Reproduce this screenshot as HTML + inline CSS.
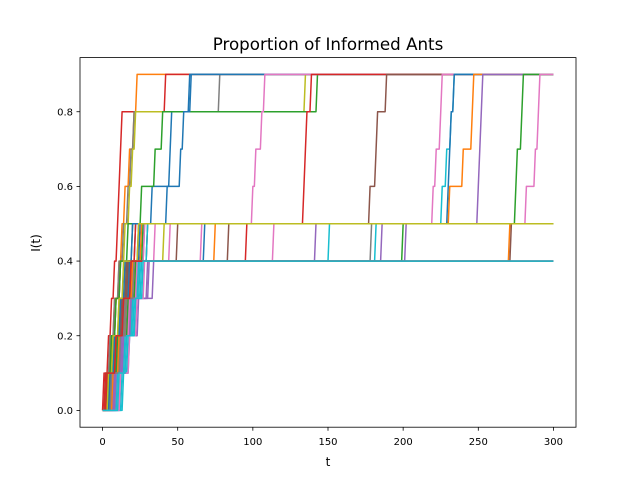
<!DOCTYPE html>
<html><head><meta charset="utf-8"><style>
body{margin:0;background:#fff;font-family:"Liberation Sans","DejaVu Sans",sans-serif}
svg text{font-family:"DejaVu Sans","Liberation Sans",sans-serif}
</style></head><body>
<svg id="chart" width="640" height="480" xmlns="http://www.w3.org/2000/svg">
<rect width="640" height="480" fill="#fff"/>
<text x="328" y="50" font-size="16.7" text-anchor="middle">Proportion of Informed Ants</text>
<text x="328" y="466" font-size="12" text-anchor="middle">t</text>
<text transform="translate(40,243) rotate(-90)" font-size="12" text-anchor="middle">I(t)</text>
<g id="series"></g>
<g id="axes"></g>
</svg>
<script>
// Each series: times (t) at which the informed proportion rises by 0.1
const seriesJumps = [
 [2,5,8,11,13,15,18,21,23],
 [1,4,6,8,10,11,12,13,42],
 [5,9,13,17,22,33,45,46,58],
 [2,5,8,11,14,17,19,21,78],
 [3,6,9,12,15,18,20,22,135],
 [4,8,12,16,20,26,35,40,143],
 [6,10,14,18,24,43,52,54,59],
 [8,12,16,20,30,100,102,106,108],
 [7,11,15,18,22,134,135,136,139],
 [6,10,14,18,30,178,182,183,189],
 [9,13,17,21,35,220,222,225,226],
 [10,14,18,22,30,226,229,232,234],
 [5,9,13,17,25,230,231,232,234],
 [6,10,14,18,26,231,240,246,247],
 [8,12,16,20,28,250,251,252,253],
 [7,11,15,19,27,275,276,279,280],
 [9,13,18,22,28,282,288,290,291],
 [3,7,11,15,41],[10,14,18,23,45],[4,9,13,17,50],[12,16,20,24,66],[5,10,14,18,68],
 [6,11,16,20,75],[8,12,15,19,84],[2,6,9,12,96],[11,15,19,22,114],[7,12,20,34,142],
 [13,17,21,25,151],[6,10,15,19,179],[14,18,22,26,182],[9,14,24,31,186],[5,10,17,22,200],
 [8,13,19,24,202],[7,11,16,21,271],[4,8,12,16,272],
 [3,6,9,12,17],[5,8,12,15,20],[4,7,11,14,24],
 [10,15,20,24],[8,13,19,30],[12,18,23,28],[6,12,16,21],[3,9,14,19],[11,16,22,27]
];
const seriesColors = ["#ff7f0e","#d62728","#1f77b4","#7f7f7f","#bcbd22","#2ca02c","#1f77b4","#e377c2","#d62728","#8c564b","#e377c2","#17becf","#1f77b4","#ff7f0e","#9467bd","#2ca02c","#e377c2",
 "#bcbd22","#e377c2","#8c564b","#e377c2","#1f77b4","#ff7f0e","#8c564b","#d62728","#e377c2","#9467bd","#17becf","#7f7f7f","#17becf","#9467bd","#2ca02c","#9467bd","#ff7f0e","#8c564b",
 "#2ca02c","#1f77b4","#bcbd22","#17becf","#9467bd","#e377c2","#7f7f7f","#d62728","#17becf"];
const xTicks = [0,50,100,150,200,250,300];
const yTicks = [0.0,0.2,0.4,0.6,0.8];
const tMax = 300;

const L=80,R=576,T=57.6,B=427.2;
const xMin=-15,xMax=315,yMin=-0.045,yMax=0.945;
const X=t=>L+(t-xMin)/(xMax-xMin)*(R-L);
const Y=v=>B-(v-yMin)/(yMax-yMin)*(B-T);
const NS="http://www.w3.org/2000/svg";
const sg=document.getElementById('series');
seriesJumps.forEach((jumps,i)=>{
  let pts=[[0,0]];let v=0;
  jumps.forEach(t=>{pts.push([t-1,v]);v=Math.round((v+0.1)*10)/10;pts.push([t,v]);});
  pts.push([tMax,v]);
  const p=document.createElementNS(NS,'polyline');
  p.setAttribute('points',pts.map(q=>X(q[0]).toFixed(2)+','+Y(q[1]).toFixed(2)).join(' '));
  p.setAttribute('fill','none');p.setAttribute('stroke',seriesColors[i%seriesColors.length]);
  p.setAttribute('stroke-width','1.5');p.setAttribute('stroke-linejoin','round');
  
  
  sg.appendChild(p);
});
const ax=document.getElementById('axes');
let h='<rect x="'+L+'" y="'+T+'" width="'+(R-L)+'" height="'+(B-T)+'" fill="none" stroke="#000" stroke-width="0.8"/>';
xTicks.forEach(t=>{const x=X(t);h+='<line x1="'+x+'" x2="'+x+'" y1="'+B+'" y2="'+(B+3.5)+'" stroke="#000" stroke-width="0.8"/><text x="'+x+'" y="'+(B+18)+'" font-size="10" text-anchor="middle">'+t+'</text>';});
yTicks.forEach(v=>{const y=Y(v);h+='<line x1="'+(L-3.5)+'" x2="'+L+'" y1="'+y+'" y2="'+y+'" stroke="#000" stroke-width="0.8"/><text x="'+(L-7)+'" y="'+(y+3.6)+'" font-size="10" text-anchor="end">'+v.toFixed(1)+'</text>';});
ax.innerHTML=h;
</script>
</body></html>
